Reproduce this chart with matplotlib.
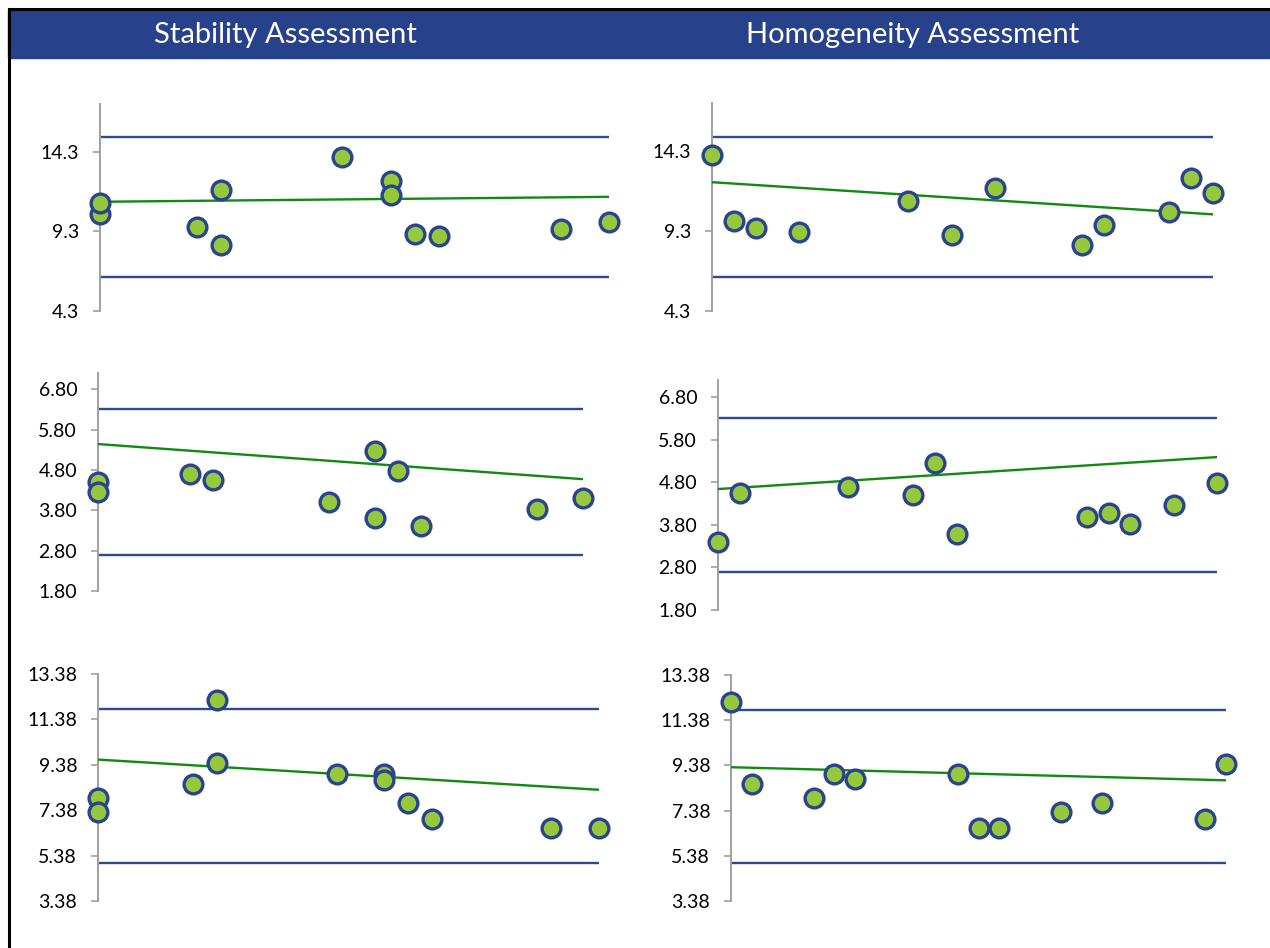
import matplotlib
matplotlib.use("Agg")
import matplotlib.pyplot as plt
from matplotlib.patches import Rectangle
from matplotlib.lines import Line2D

plt.rcParams['font.family'] = ['Lato', 'DejaVu Sans']

W, H = 1270, 948

# ---------------- data ----------------
titles = ["Stability Assessment", "Homogeneity Assessment"]

# Panel 1 (stability, row 1)
p1_x = [0, 0, 4, 5, 5, 10, 12, 12, 13, 14, 19, 21]
p1_y = [10.40, 11.09, 9.58, 11.91, 8.45, 13.99, 12.48, 11.60, 9.14, 9.02, 9.46, 9.90]
p1_xmax = 21
p1_limits = [15.2, 6.44]
p1_trend = [11.16, 11.47]
p1_ticks = [4.3, 9.3, 14.3]
p1_labels = ["4.3", "9.3", "14.3"]
p1_ylim = [4.3, 17.3]

# Panel 2 (homogeneity, row 1)
p2_x = [0, 1, 2, 4, 9, 11, 13, 17, 18, 21, 22, 23]
p2_y = [14.05, 9.90, 9.46, 9.21, 11.16, 9.02, 11.97, 8.45, 9.65, 10.46, 12.60, 11.66]
p2_xmax = 23
p2_limits = [15.2, 6.44]
p2_trend = [12.35, 10.34]
p2_ticks = [4.3, 9.3, 14.3]
p2_labels = ["4.3", "9.3", "14.3"]
p2_ylim = [4.3, 17.3]

# Panel 3 (stability, row 2)
p3_x = [0, 0, 4, 5, 10, 12, 12, 13, 14, 19, 21]
p3_y = [4.50, 4.25, 4.70, 4.55, 4.00, 5.27, 3.61, 4.77, 3.41, 3.83, 4.10]
p3_xmax = 21
p3_limits = [6.30, 2.69]
p3_trend = [5.44, 4.57]
p3_ticks = [1.8, 2.8, 3.8, 4.8, 5.8, 6.8]
p3_labels = ["1.80", "2.80", "3.80", "4.80", "5.80", "6.80"]
p3_ylim = [1.8, 7.2]

# Panel 4 (homogeneity, row 2)
p4_x = [0, 1, 6, 9, 10, 11, 17, 18, 19, 21, 23]
p4_y = [3.40, 4.55, 4.69, 4.50, 5.25, 3.58, 3.98, 4.08, 3.82, 4.26, 4.78]
p4_xmax = 23
p4_limits = [6.31, 2.69]
p4_trend = [4.64, 5.39]
p4_ticks = [1.8, 2.8, 3.8, 4.8, 5.8, 6.8]
p4_labels = ["1.80", "2.80", "3.80", "4.80", "5.80", "6.80"]
p4_ylim = [1.8, 7.2]

# Panel 5 (stability, row 3)
p5_x = [0, 0, 4, 5, 5, 10, 12, 12, 13, 14, 19, 21]
p5_y = [7.92, 7.30, 8.54, 12.22, 9.48, 8.99, 8.99, 8.73, 7.71, 7.00, 6.60, 6.60]
p5_xmax = 21
p5_limits = [11.82, 5.06]
p5_trend = [9.61, 8.28]
p5_ticks = [3.38, 5.38, 7.38, 9.38, 11.38, 13.38]
p5_labels = ["3.38", "5.38", "7.38", "9.38", "11.38", "13.38"]
p5_ylim = [3.38, 13.38]

# Panel 6 (homogeneity, row 3)
p6_x = [0, 1, 4, 5, 6, 11, 12, 13, 16, 18, 23, 24]
p6_y = [12.17, 8.55, 7.93, 8.99, 8.77, 8.99, 6.60, 6.60, 7.31, 7.71, 7.00, 9.44]
p6_xmax = 24
p6_limits = [11.82, 5.06]
p6_trend = [9.30, 8.72]
p6_ticks = [3.38, 5.38, 7.38, 9.38, 11.38, 13.38]
p6_labels = ["3.38", "5.38", "7.38", "9.38", "11.38", "13.38"]
p6_ylim = [3.38, 13.38]

# ---------------- styles ----------------
HEADER = '#27418A'
LIMIT = '#2E4A8E'
TREND = '#108A10'
FACE = '#96C83C'
EDGE = '#2B438F'
SPINE = '#A0A0A0'

fig = plt.figure(figsize=(W / 100, H / 100), dpi=100)

# header bar and border
fig.patches.append(Rectangle((8 / W, 1 - 58 / H), (W - 8) / W, 48 / H,
                             transform=fig.transFigure, color=HEADER, zorder=0))
fig.lines.append(Line2D([8.5 / W, 1], [1 - 8.5 / H, 1 - 8.5 / H],
                        transform=fig.transFigure, color='black', lw=2.2))
fig.lines.append(Line2D([8.5 / W, 8.5 / W], [0, 1 - 8.5 / H],
                        transform=fig.transFigure, color='black', lw=2.2))
fig.text(285 / W, 1 - 35 / H, titles[0], color='white', fontsize=21,
         ha='center', va='center')
fig.text(913 / W, 1 - 35 / H, titles[1], color='white', fontsize=21,
         ha='center', va='center')

panels = [
    (p1_x, p1_y, p1_xmax, p1_limits, p1_trend, p1_ticks, p1_labels, p1_ylim, (100, 609, 104, 311)),
    (p2_x, p2_y, p2_xmax, p2_limits, p2_trend, p2_ticks, p2_labels, p2_ylim, (712, 1213, 103, 311)),
    (p3_x, p3_y, p3_xmax, p3_limits, p3_trend, p3_ticks, p3_labels, p3_ylim, (98, 583, 373, 591)),
    (p4_x, p4_y, p4_xmax, p4_limits, p4_trend, p4_ticks, p4_labels, p4_ylim, (718, 1217, 380, 610)),
    (p5_x, p5_y, p5_xmax, p5_limits, p5_trend, p5_ticks, p5_labels, p5_ylim, (98, 599, 674, 901)),
    (p6_x, p6_y, p6_xmax, p6_limits, p6_trend, p6_ticks, p6_labels, p6_ylim, (731, 1226, 675, 901)),
]

for xs, ys, xmax, lims, trend, ticks, labels, ylim, (x0, x1, yt, yb) in panels:
    ax = fig.add_axes([x0 / W, 1 - yb / H, (x1 - x0) / W, (yb - yt) / H])
    ax.set_xlim(0, xmax)
    ax.set_ylim(*ylim)
    for v in lims:
        ax.plot([0, xmax], [v, v], color=LIMIT, lw=1.7, solid_capstyle='butt', zorder=2)
    ax.plot([0, xmax], trend, color=TREND, lw=1.7, zorder=3)
    ax.plot(xs, ys, linestyle='none', marker='o', markersize=13.5,
            markerfacecolor=FACE, markeredgecolor=EDGE, markeredgewidth=2.4,
            clip_on=False, zorder=4)
    for s in ['top', 'right', 'bottom']:
        ax.spines[s].set_visible(False)
    ax.spines['left'].set_color(SPINE)
    ax.spines['left'].set_linewidth(1.4)
    ax.set_xticks([])
    ax.set_yticks(ticks)
    ax.set_yticklabels(labels)
    ax.tick_params(axis='y', direction='out', length=5, width=1.2, color=SPINE,
                   labelsize=14, pad=10, labelcolor='black')
    ax.patch.set_alpha(0)

fig.savefig('out.png', dpi=100)
